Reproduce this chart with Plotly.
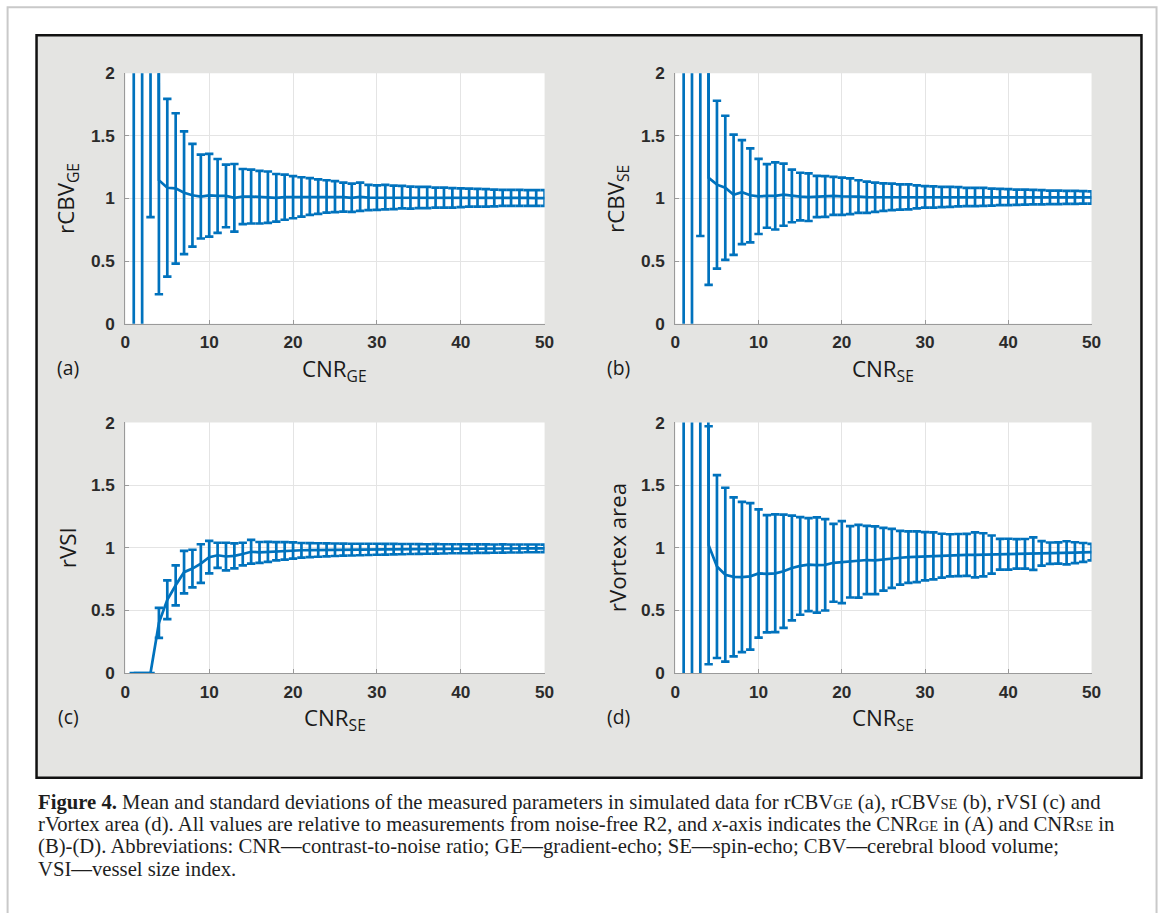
import plotly.graph_objects as go

# ---------------------------------------------------------------- data
cnr = list(range(1, 51))

# (a) rCBV_GE : mean and standard deviation per CNR_GE
rcbv_ge_mean = [6.0, 6.0, 30.0, 1.145, 1.085, 1.08, 1.045, 1.025, 1.015, 1.025,
                1.02, 1.02, 1.005, 1.015, 1.015, 1.01, 1.01, 1.005, 1.01, 1.01,
                1.012, 1.015, 1.014, 1.016, 1.015, 1.01, 1.005, 1.013, 1.007, 1.007,
                1.01, 1.008, 1.01, 1.007, 1.007, 1.007, 1.006, 1.006, 1.005, 1.005,
                1.006, 1.005, 1.005, 1.004, 1.004, 1.004, 1.004, 1.004, 1.003, 1.003]
rcbv_ge_sd = [9.0, 9.0, 29.15, 0.91, 0.71, 0.60, 0.49, 0.41, 0.335, 0.33,
              0.295, 0.25, 0.27, 0.22, 0.215, 0.21, 0.205, 0.19, 0.18, 0.168,
              0.157, 0.147, 0.138, 0.129, 0.124, 0.116, 0.113, 0.113, 0.101, 0.098,
              0.098, 0.094, 0.09, 0.088, 0.085, 0.085, 0.08, 0.08, 0.078, 0.075,
              0.072, 0.071, 0.07, 0.067, 0.064, 0.064, 0.064, 0.063, 0.063, 0.063]

# (b) rCBV_SE : mean and standard deviation per CNR_SE
rcbv_se_mean = [6.0, 6.0, 30.0, 1.165, 1.11, 1.085, 1.03, 1.05, 1.025, 1.016,
                1.02, 1.02, 1.03, 1.02, 1.015, 1.01, 1.015, 1.015, 1.02, 1.017,
                1.017, 1.015, 1.01, 1.01, 1.011, 1.012, 1.012, 1.013, 1.012, 1.012,
                1.011, 1.012, 1.013, 1.013, 1.012, 1.012, 1.012, 1.011, 1.011, 1.011,
                1.01, 1.01, 1.01, 1.009, 1.009, 1.009, 1.009, 1.009, 1.008, 1.008]
rcbv_se_sd = [9.0, 9.0, 29.3, 0.855, 0.67, 0.575, 0.48, 0.415, 0.375, 0.30,
              0.254, 0.268, 0.248, 0.21, 0.19, 0.19, 0.165, 0.163, 0.152, 0.149,
              0.143, 0.130, 0.125, 0.117, 0.110, 0.106, 0.101, 0.10, 0.092, 0.086,
              0.085, 0.081, 0.08, 0.077, 0.073, 0.073, 0.072, 0.068, 0.065, 0.064,
              0.061, 0.06, 0.058, 0.057, 0.054, 0.054, 0.052, 0.052, 0.05, 0.049]

# (c) rVSI : mean and standard deviation per CNR_SE
rvsi_mean = [0.0, 0.0, 0.0, 0.40, 0.585, 0.70, 0.805, 0.834, 0.874, 0.925,
             0.94, 0.93, 0.935, 0.95, 0.968, 0.963, 0.967, 0.972, 0.975, 0.978,
             0.98, 0.981, 0.982, 0.983, 0.984, 0.985, 0.985, 0.986, 0.987, 0.988,
             0.988, 0.989, 0.989, 0.99, 0.99, 0.99, 0.991, 0.991, 0.992, 0.992,
             0.992, 0.993, 0.993, 0.993, 0.994, 0.994, 0.994, 0.995, 0.995, 0.995]
rvsi_sd = [0.0, 0.0, 0.0, 0.12, 0.155, 0.16, 0.17, 0.15, 0.154, 0.13,
           0.10, 0.11, 0.10, 0.09, 0.095, 0.083, 0.08, 0.073, 0.07, 0.065,
           0.058, 0.056, 0.054, 0.052, 0.05, 0.048, 0.047, 0.046, 0.045, 0.044,
           0.043, 0.042, 0.041, 0.04, 0.039, 0.038, 0.038, 0.037, 0.036, 0.036,
           0.035, 0.034, 0.034, 0.033, 0.033, 0.032, 0.032, 0.031, 0.031, 0.03]

# (d) rVortex area : mean and standard deviation per CNR_SE
rvortex_mean = [8.0, 8.0, 30.0, 1.02, 0.85, 0.785, 0.768, 0.766, 0.772, 0.795,
                0.792, 0.796, 0.812, 0.838, 0.855, 0.865, 0.862, 0.864, 0.88, 0.885,
                0.888, 0.892, 0.902, 0.90, 0.908, 0.915, 0.92, 0.925, 0.928, 0.932,
                0.935, 0.937, 0.94, 0.942, 0.943, 0.943, 0.944, 0.946, 0.948, 0.949,
                0.951, 0.952, 0.953, 0.955, 0.957, 0.958, 0.96, 0.961, 0.963, 0.965]
rvortex_sd = [12.0, 12.0, 40.0, 0.95, 0.73, 0.694, 0.635, 0.60, 0.585, 0.512,
              0.468, 0.47, 0.452, 0.418, 0.39, 0.371, 0.38, 0.365, 0.311, 0.327,
              0.285, 0.29, 0.272, 0.27, 0.25, 0.235, 0.215, 0.205, 0.203, 0.192,
              0.188, 0.175, 0.168, 0.168, 0.168, 0.18, 0.172, 0.152, 0.123, 0.123,
              0.118, 0.118, 0.13, 0.098, 0.085, 0.085, 0.092, 0.083, 0.075, 0.066]

x_ticks = [0, 10, 20, 30, 40, 50]
y_ticks = [0, 0.5, 1, 1.5, 2]

panels = [
    ("(a)", "rCBV<sub>GE</sub>", "CNR<sub>GE</sub>", rcbv_ge_mean, rcbv_ge_sd),
    ("(b)", "rCBV<sub>SE</sub>", "CNR<sub>SE</sub>", rcbv_se_mean, rcbv_se_sd),
    ("(c)", "rVSI", "CNR<sub>SE</sub>", rvsi_mean, rvsi_sd),
    ("(d)", "rVortex area", "CNR<sub>SE</sub>", rvortex_mean, rvortex_sd),
]

SUB = '<span style="font-size:14.5px">{}</span>'
caption_lines = [
    "<b>Figure 4.</b> Mean and standard deviations of the measured parameters in simulated data for "
    "rCBV" + SUB.format("GE") + " (a), rCBV" + SUB.format("SE") + " (b), rVSI (c) and",
    "rVortex area (d). All values are relative to measurements from noise-free R2, and <i>x</i>-axis "
    "indicates the CNR" + SUB.format("GE") + " in (A) and CNR" + SUB.format("SE") + " in",
    "(B)-(D). Abbreviations: CNR\u2014contrast-to-noise ratio; GE\u2014gradient-echo; SE\u2014spin-echo; "
    "CBV\u2014cerebral blood volume;",
    "VSI\u2014vessel size index.",
]

# ---------------------------------------------------------------- layout geometry
# Layout positions are given in page pixels and converted to paper fractions;
# the page shows the figure slightly inset, so the conversion undoes that inset.
W, H = 1167, 913
SX, OX = 0.989, 4.4
SY, OY = 0.980, 8.7
BLUE = "#0072BD"
col_px = [(125, 545), (676, 1093)]
row_px = [(72, 323), (422, 673)]


def fx(px):
    return min(max((px - OX) / SX / W, 0.0004), 0.9996)


def fy(py):
    return 1 - (py - OY) / SY / H


fig = go.Figure()
shapes = [
    # page border
    dict(type="rect", xref="paper", yref="paper", x0=fx(7), x1=fx(1160), y0=-0.2, y1=fy(6),
         line=dict(color="#c9c9c9", width=2), fillcolor="white", layer="below"),
    # figure frame
    dict(type="rect", xref="paper", yref="paper", x0=fx(36), x1=fx(1143), y0=fy(778), y1=fy(34),
         line=dict(color="#111111", width=2.5), fillcolor="#e4e4e2", layer="below"),
]
annotations = []

tick_font = dict(family="Liberation Sans", size=17.2, color="#2b2b2b", weight="bold")
title_font = dict(family="Open Sans", size=22.3, color="#1a1a1a")

for i, (tag, ylab, xlab, mean, sd) in enumerate(panels):
    r, c = divmod(i, 2)
    x0p, x1p = col_px[c]
    y0p, y1p = row_px[r]
    sfx = "" if i == 0 else str(i + 1)
    xa, ya = "x" + sfx, "y" + sfx

    shapes.append(dict(type="rect", xref="paper", yref="paper",
                       x0=fx(x0p), x1=fx(x1p), y0=fy(y1p), y1=fy(y0p),
                       line=dict(width=0), fillcolor="white", layer="below"))

    fig.add_trace(go.Scatter(
        x=cnr, y=mean, xaxis=xa, yaxis=ya, mode="lines",
        line=dict(color=BLUE, width=2.7),
        error_y=dict(type="data", array=sd, symmetric=True, color=BLUE,
                     thickness=2.7, width=4.2),
        showlegend=False, hoverinfo="skip",
    ))

    axis_common = dict(showgrid=True, gridcolor="#e4e4e4", gridwidth=1,
                       showline=True, linecolor="#9a9a9a", linewidth=1,
                       ticks="inside", ticklen=4, tickcolor="#9a9a9a",
                       tickfont=tick_font, zeroline=False, ticklabelstandoff=6)
    fig.update_layout(**{
        ("xaxis" + sfx): dict(axis_common, domain=[fx(x0p), fx(x1p)], anchor=ya,
                              range=[0, 50], tickvals=x_ticks, ticklabelstandoff=3),
        ("yaxis" + sfx): dict(axis_common, domain=[fy(y1p), fy(y0p)], anchor=xa,
                              range=[0, 2], tickvals=y_ticks),
    })

    # axis titles and panel tag
    annotations.append(dict(text=ylab, xref="paper", yref="paper",
                            x=fx(x0p - 58), y=fy((y0p + y1p) / 2), textangle=-90,
                            showarrow=False, font=title_font,
                            xanchor="center", yanchor="middle"))
    annotations.append(dict(text=xlab, xref="paper", yref="paper",
                            x=fx((x0p + x1p) / 2), y=fy(y1p + 46),
                            showarrow=False, font=title_font,
                            xanchor="center", yanchor="middle"))
    annotations.append(dict(text=tag, xref="paper", yref="paper",
                            x=fx(x0p - 57), y=fy(y1p + 44),
                            showarrow=False,
                            font=dict(family="Open Sans", size=19.3, color="#1a1a1a"),
                            xanchor="center", yanchor="middle"))

for k, line in enumerate(caption_lines):
    annotations.append(dict(text=line, xref="paper", yref="paper",
                            x=fx(35), y=fy(803 + 22 * k), showarrow=False,
                            xanchor="left", yanchor="middle", align="left",
                            font=dict(family="Liberation Serif", size=20.7, color="#1e1e1e")))

fig.update_layout(
    width=W, height=H, autosize=False,
    margin=dict(l=0, r=0, t=0, b=0),
    paper_bgcolor="white", plot_bgcolor="rgba(0,0,0,0)",
    shapes=shapes, annotations=annotations,
)

fig.write_html("out.html")
